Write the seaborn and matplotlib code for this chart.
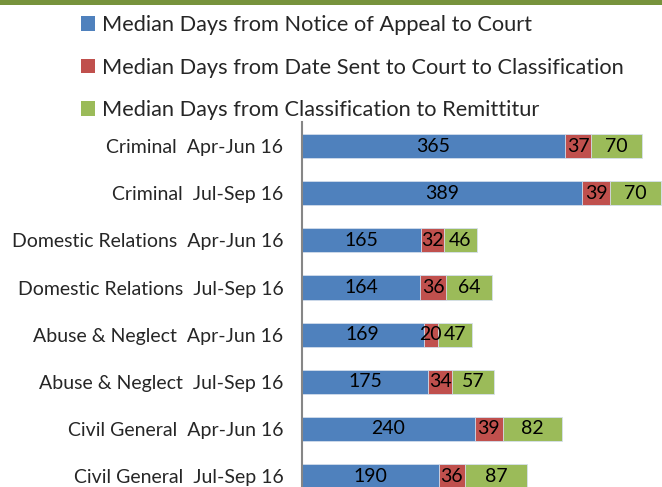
import numpy as np
import pandas as pd
import matplotlib
matplotlib.use("Agg")
import matplotlib.pyplot as plt
from matplotlib.patches import Patch, Rectangle
import seaborn as sns

# Chart data
categories = ["Criminal  Apr-Jun 16", "Criminal  Jul-Sep 16",
              "Domestic Relations  Apr-Jun 16", "Domestic Relations  Jul-Sep 16",
              "Abuse & Neglect  Apr-Jun 16", "Abuse & Neglect  Jul-Sep 16",
              "Civil General  Apr-Jun 16", "Civil General  Jul-Sep 16"]
notice_to_court = [365, 389, 165, 164, 169, 175, 240, 190]
sent_to_classification = [37, 39, 32, 36, 20, 34, 39, 36]
classification_to_remittitur = [70, 70, 46, 64, 47, 57, 82, 87]
series_names = ["Median Days from Notice of Appeal to Court",
                "Median Days from Date Sent to Court to Classification",
                "Median Days from Classification to Remittitur"]
colors = ["#4F81BD", "#C0504D", "#9BBB59"]


def build_frame():
    df = pd.DataFrame({
        "category": categories,
        "a": notice_to_court,
        "b": sent_to_classification,
        "c": classification_to_remittitur,
    })
    df["ab"] = df["a"] + df["b"]
    df["abc"] = df["ab"] + df["c"]
    return df


def plot_stacked(df):
    sns.set_style("white")
    plt.rcParams["font.family"] = ["Lato", "DejaVu Sans"]

    fig = plt.figure(figsize=(6.62, 4.87), dpi=100)
    ax = fig.add_axes([302 / 662, 0.0, 1 - 302 / 662, (487 - 122) / 487])

    # layered bars: total first, then partial sums on top
    for col, color in zip(["abc", "ab", "a"], colors[::-1]):
        sns.barplot(data=df, y="category", x=col, color=color, orient="h",
                    width=0.51, ax=ax, saturation=1, edgecolor="#D6E0EE",
                    linewidth=0.6)

    # segment labels
    for i, row in df.iterrows():
        starts = [0, row["a"], row["ab"]]
        for s, v in zip(starts, [row["a"], row["b"], row["c"]]):
            ax.text(s + v / 2, i, str(v), ha="center", va="center",
                    fontsize=14, color="black")

    ax.set_xlim(0, 500)
    ax.set_ylim(7.23, -0.51)
    ax.set_xlabel("")
    ax.set_ylabel("")
    ax.set_xticks([])
    ax.tick_params(axis="y", length=0, labelsize=14, pad=13.5)
    for side in ["top", "right", "bottom"]:
        ax.spines[side].set_visible(False)
    ax.spines["left"].set_color("#868686")
    ax.spines["left"].set_linewidth(1.5)

    # legend above the plot
    handles = [Patch(facecolor=c, edgecolor="none") for c in colors]
    fig.legend(handles, series_names, loc="upper left",
               bbox_to_anchor=(81 / 662, 1 - 15 / 487), frameon=False,
               fontsize=15.7, handlelength=0.645, handleheight=0.645,
               handletextpad=0.32, labelspacing=1.04,
               borderpad=0, borderaxespad=0)

    # green strip at the top edge
    fig.patches.append(Rectangle((0, 1 - 5 / 487), 1, 5 / 487,
                                 transform=fig.transFigure,
                                 facecolor="#77933C", edgecolor="none"))

    fig.savefig("out.png", dpi=100)


if __name__ == "__main__":
    plot_stacked(build_frame())
